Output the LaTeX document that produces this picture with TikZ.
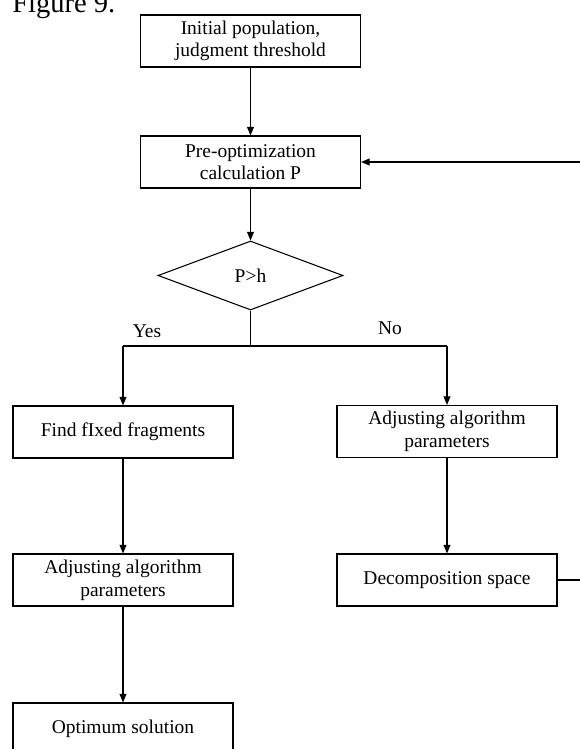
\documentclass[tikz,border=0pt]{standalone}
\usepackage{fontspec}
\setmainfont{Liberation Serif}
\usetikzlibrary{shapes.geometric,arrows.meta}
\begin{document}
\begin{tikzpicture}[x=0.75pt,y=-0.75pt,
  every node/.style={font=\fontsize{14.6pt}{17pt}\selectfont},
  stepbox/.style={draw,line width=0.8pt,minimum width=165pt,minimum height=39pt,inner sep=0pt,align=center},
  decbox/.style={draw,diamond,line width=0.8pt,minimum width=138.75pt,minimum height=51.75pt,inner sep=0pt,aspect=2.68},
  conn/.style={line width=0.8pt},
  arr/.style={conn,-{Triangle[length=6.5pt,width=5.2pt]}}]
\clip (0,0) rectangle (580,749);
\node[anchor=base west,font=\fontsize{21.4pt}{25pt}\selectfont,inner sep=0pt] (fig) at (12,13) {Figure 9.};
\node[stepbox] (init) at (250.5,41) {Initial population,\\judgment threshold};
\node[stepbox] (pre) at (250.5,162) {Pre-optimization\\calculation P};
\node[decbox] (dec) at (250.5,275.5) {P>h};
\node[stepbox] (find) at (123,432) {Find fIxed fragments};
\node[stepbox] (adjl) at (123,580) {Adjusting algorithm\\parameters};
\node[stepbox] (opt) at (123,729) {Optimum solution};
\node[stepbox] (adjr) at (447,431.5) {Adjusting algorithm\\parameters};
\node[stepbox] (decomp) at (447,580) {Decomposition space};
\coordinate (split) at (250.5,346);
\coordinate (yesc) at (123,346);
\coordinate (noc) at (447,346);
\coordinate (r1) at (586,580);
\coordinate (r2) at (586,162);
\node[anchor=base,inner sep=0pt] (yes) at (147,337) {Yes};
\node[anchor=base,inner sep=0pt] (no) at (390,334) {No};
\draw[arr] (init) -- (pre);
\draw[arr] (pre) -- (dec);
\draw[conn] (dec.south) -- (split);
\draw[conn] (yesc) -- (noc);
\draw[arr] (yesc) -- (find);
\draw[arr] (noc) -- (adjr);
\draw[arr] (find) -- (adjl);
\draw[arr] (adjl) -- (opt);
\draw[arr] (adjr) -- (decomp);
\draw[arr] (decomp.east) -- (r1) -- (r2) -- (pre.east);
\end{tikzpicture}
\end{document}
